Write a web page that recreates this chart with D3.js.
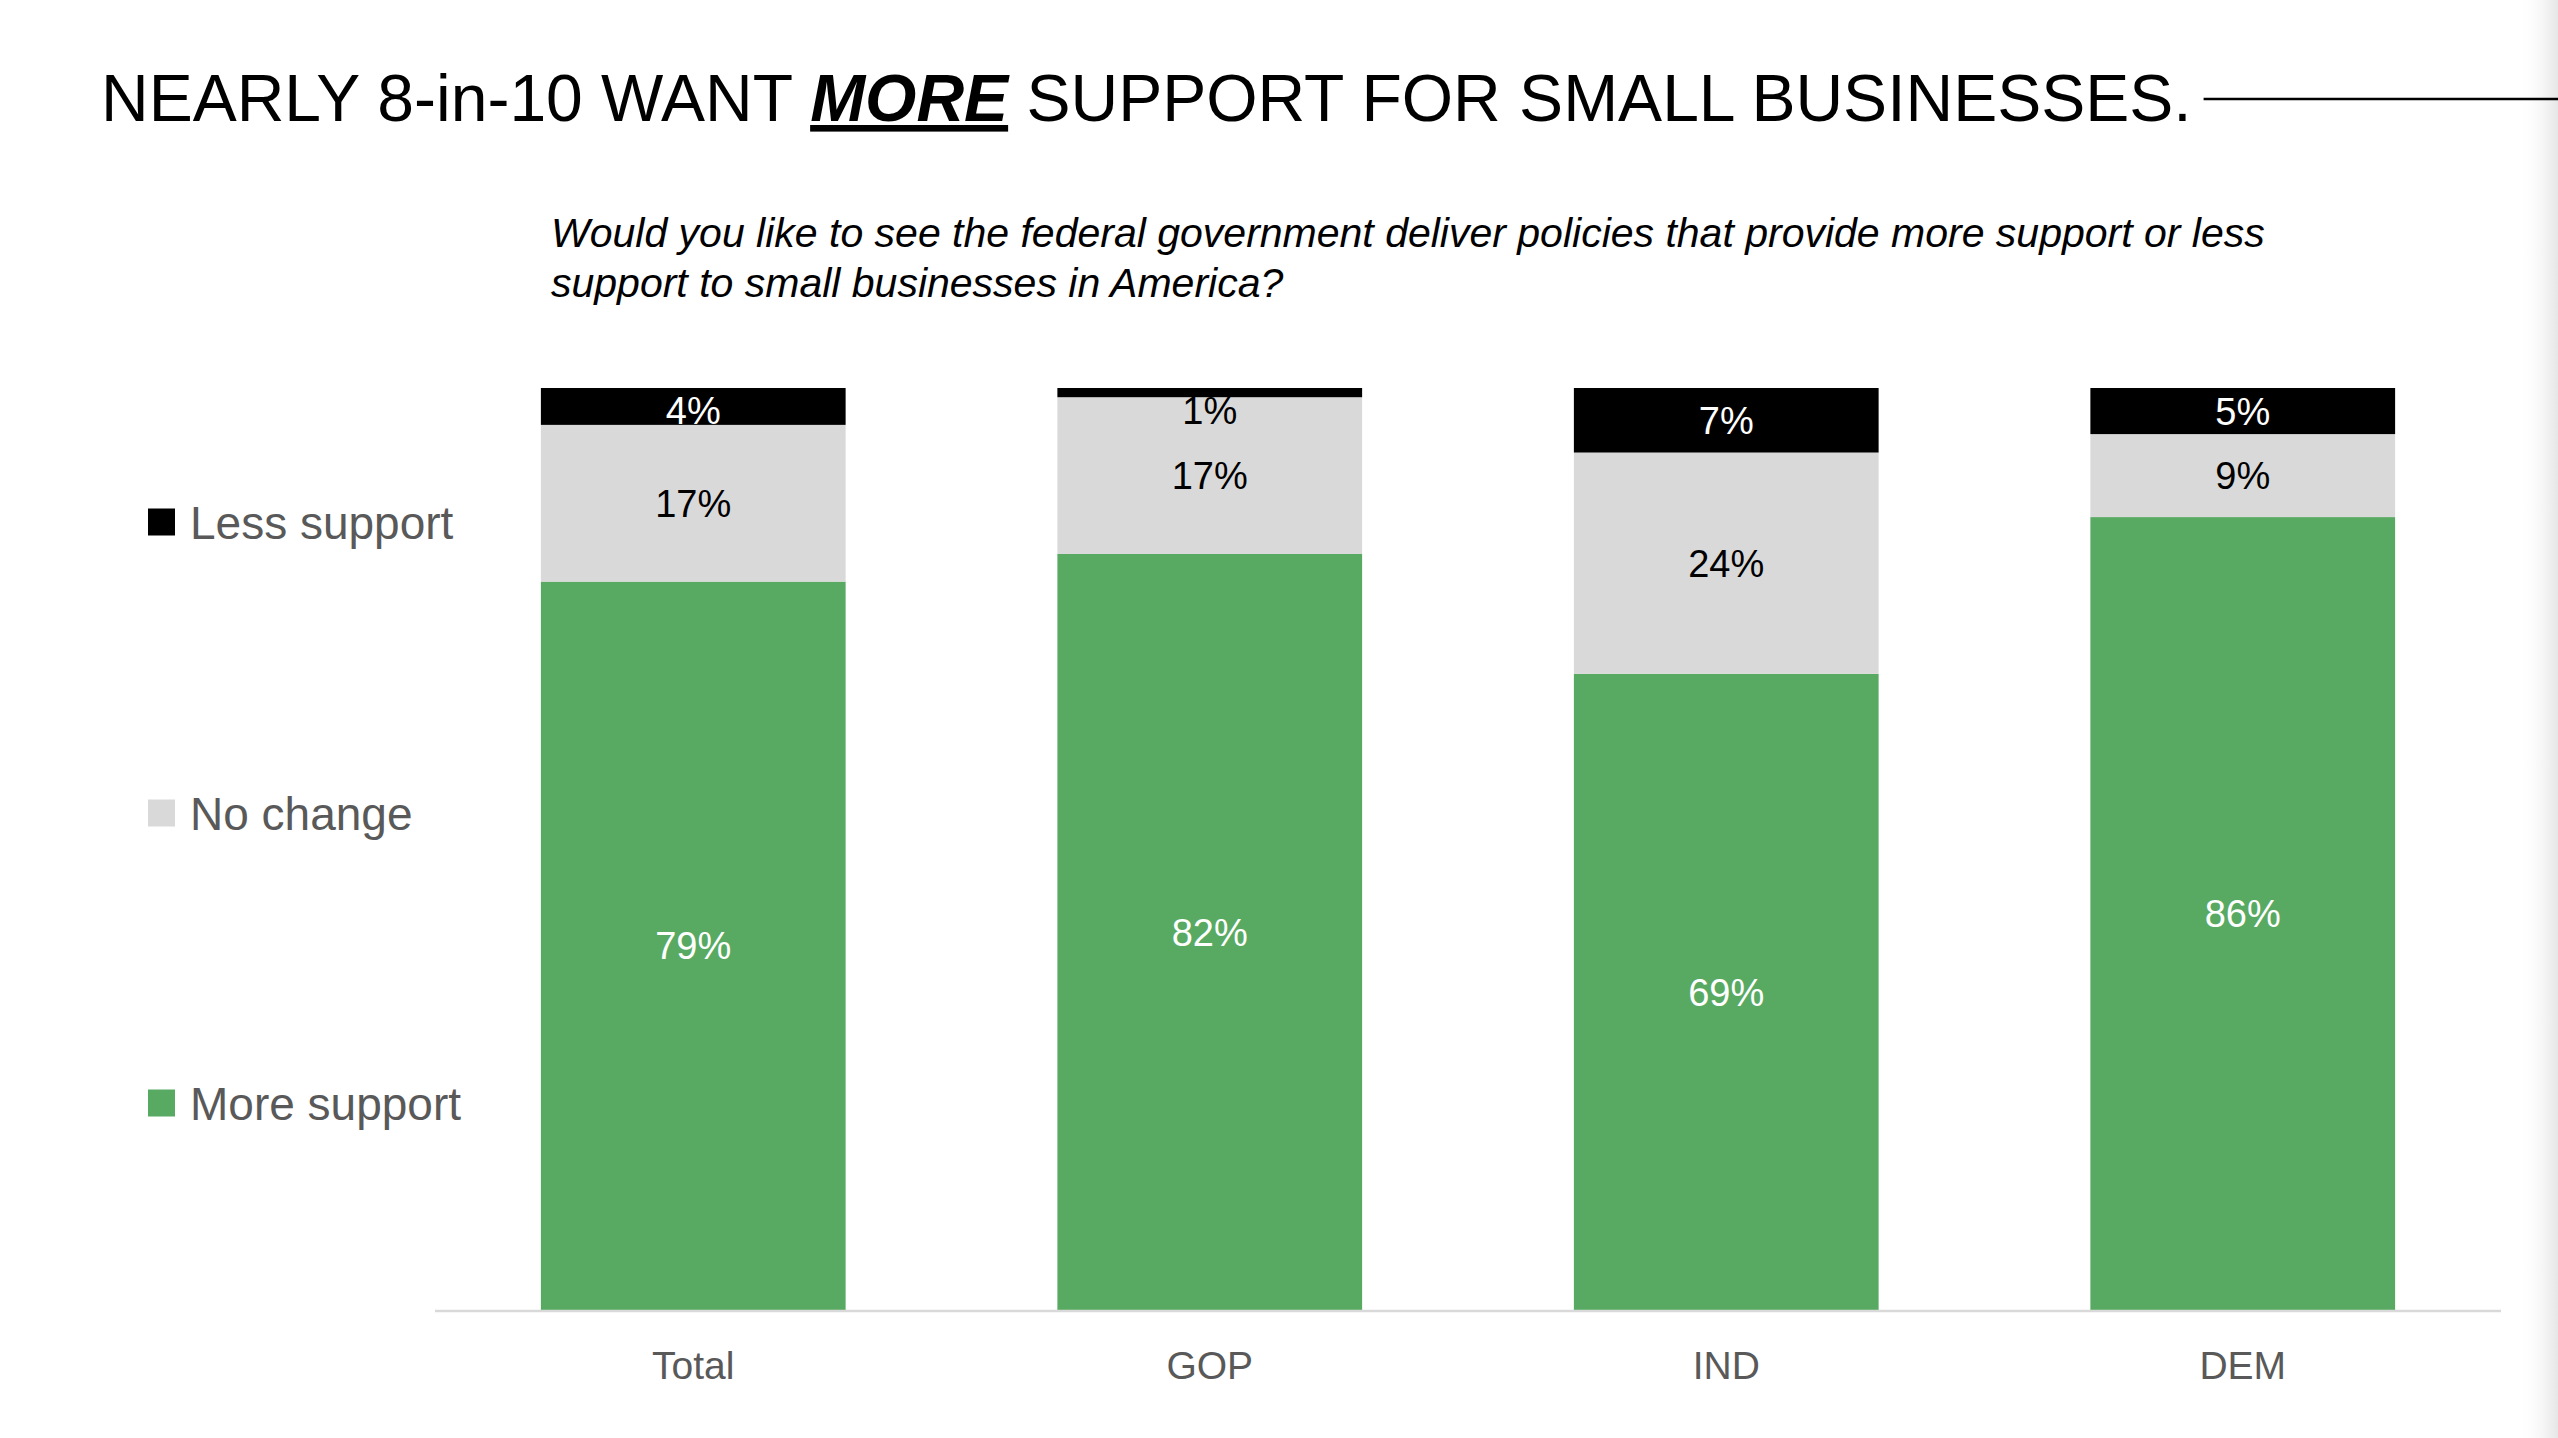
<!DOCTYPE html>
<html>
<head>
<meta charset="utf-8">
<script src="https://cdn.jsdelivr.net/npm/d3@7"></script>
<style>
  html, body { margin: 0; padding: 0; background: #fff; }
  svg { display: block; font-family: "Liberation Sans", Arial, sans-serif; }
</style>
</head>
<body>
<svg id="chart" width="2558" height="1438"></svg>
<script>
let categories = ["Total", "GOP", "IND", "DEM"];
let moreSupport = [79, 82, 69, 86];
let noChange = [17, 17, 24, 9];
let lessSupport = [4, 1, 7, 5];

let seriesKeys = ["more", "none", "less"];
let seriesNames = ["More support", "No change", "Less support"];
let colors = ["#58aa62", "#d9d9d9", "#000000"];
let labelColors = ["#ffffff", "#000000", "#ffffff"];

let width = 2558;
let height = 1438;
let svg = d3.select("#chart");

// soft page edge on the right
let defs = svg.append("defs");
let grad = defs.append("linearGradient").attr("id", "edge").attr("x1", "0").attr("x2", "1");
grad.append("stop").attr("offset", "0").attr("stop-color", "#ffffff").attr("stop-opacity", 0);
grad.append("stop").attr("offset", "1").attr("stop-color", "#e6e6e6").attr("stop-opacity", 1);
svg.append("rect").attr("x", 2518).attr("y", 0).attr("width", 40).attr("height", height).attr("fill", "url(#edge)");

// title
let title = svg.append("text")
    .attr("x", 101)
    .attr("y", 121)
    .style("font-size", "66px")
    .attr("fill", "#000");
title.append("tspan").text("NEARLY 8-in-10 WANT ");
title.append("tspan")
    .style("font-weight", "bold")
    .style("font-style", "italic")
    .style("text-decoration", "underline")
    .text("MORE");
title.append("tspan").text(" SUPPORT FOR SMALL BUSINESSES.");

let titleEnd = 101 + title.node().getComputedTextLength();
svg.append("line")
    .attr("x1", titleEnd + 12)
    .attr("x2", width)
    .attr("y1", 99)
    .attr("y2", 99)
    .style("stroke", "#000")
    .style("stroke-width", 2.5);

// question
let question = [
    "Would you like to see the federal government deliver policies that provide more support or less",
    "support to small businesses in America?"
];
svg.selectAll(".question")
    .data(question)
    .enter()
    .append("text")
    .attr("class", "question")
    .attr("x", 551)
    .attr("y", (d, i) => 247 + i * 50)
    .style("font-size", "41px")
    .style("font-style", "italic")
    .attr("fill", "#000")
    .text(d => d);

// stacked data
let table = categories.map((c, i) => ({
    category: c,
    more: moreSupport[i],
    none: noChange[i],
    less: lessSupport[i]
}));
let stacked = d3.stack().keys(seriesKeys)(table);

let x = d3.scaleBand()
    .domain(categories)
    .range([435, 2501])
    .paddingInner(0.41)
    .paddingOuter(0.205);

let y = d3.scaleLinear()
    .domain([0, 100])
    .range([1310, 388]);

let groups = svg.selectAll(".series")
    .data(stacked)
    .enter()
    .append("g")
    .attr("class", "series")
    .attr("fill", (d, i) => colors[i]);

groups.selectAll("rect")
    .data(d => d)
    .enter()
    .append("rect")
    .attr("x", d => x(d.data.category))
    .attr("y", d => y(d[1]))
    .attr("width", x.bandwidth())
    .attr("height", d => y(d[0]) - y(d[1]));

// value labels, kept inside the plot top; a label that spills past its
// segment lands on the grey below, so it goes black there
stacked.forEach((s, si) => {
    svg.selectAll(".label-" + s.key)
        .data(s)
        .enter()
        .append("text")
        .attr("class", "label-" + s.key)
        .attr("x", d => x(d.data.category) + x.bandwidth() / 2)
        .attr("y", d => Math.max((y(d[0]) + y(d[1])) / 2, 410))
        .attr("dy", "0.36em")
        .attr("text-anchor", "middle")
        .style("font-size", "38px")
        .attr("fill", d => (y(d[0]) - y(d[1]) < 20) ? "#000000" : labelColors[si])
        .text(d => (d[1] - d[0]) + "%");
});

// x axis
let xAxis = svg.append("g")
    .attr("transform", "translate(0,1311)")
    .call(d3.axisBottom(x).tickSize(0).tickPadding(40));
xAxis.select(".domain")
    .attr("d", "M435,0H2501")
    .style("stroke", "#d9d9d9")
    .style("stroke-width", 2.5);
xAxis.selectAll("text")
    .style("font-family", "Liberation Sans, Arial, sans-serif")
    .style("font-size", "39px")
    .attr("fill", "#595959");

// legend, top to bottom: less, no change, more
let legendY = [522, 813, 1103];
let legendOrder = [2, 1, 0];
let legend = svg.selectAll(".legend")
    .data(legendOrder)
    .enter()
    .append("g")
    .attr("class", "legend")
    .attr("transform", (d, i) => "translate(148," + legendY[i] + ")");
legend.append("rect")
    .attr("x", 0)
    .attr("y", -13.5)
    .attr("width", 27)
    .attr("height", 27)
    .attr("fill", d => colors[d]);
legend.append("text")
    .attr("x", 42)
    .attr("y", 0)
    .attr("dy", "0.36em")
    .style("font-size", "46px")
    .attr("fill", "#595959")
    .text(d => seriesNames[d]);
</script>
</body>
</html>
